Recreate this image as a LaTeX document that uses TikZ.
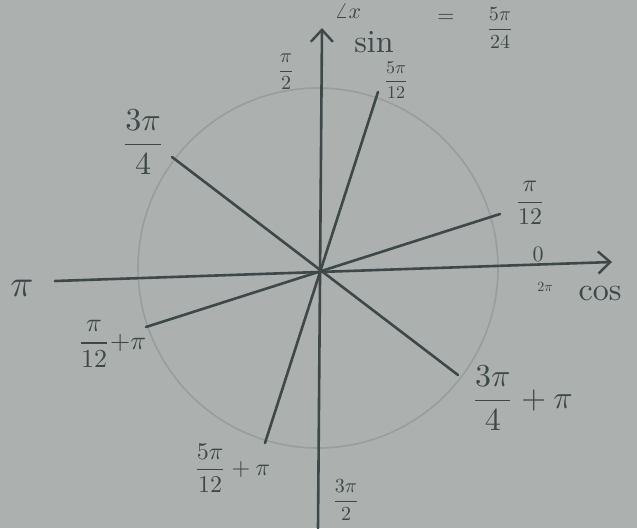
\documentclass[tikz,border=0pt]{standalone}
\usepackage{amsmath}
\usetikzlibrary{arrows.meta}
\definecolor{paper}{RGB}{172,176,174}
\definecolor{pencil}{RGB}{62,72,72}
\definecolor{faint}{RGB}{152,158,154}
\tikzset{
  ray/.style={draw=pencil,line width=2.6pt,line cap=round},
  axis/.style={ray,-{Straight Barb[length=12pt,width=22pt,line width=2.4pt]}},
  lbl/.style={text=pencil,inner sep=1pt,scale=#1/10}
}
\begin{document}
\begin{tikzpicture}[x=1pt,y=-1pt]
      \fill[paper] (0,0) rectangle (637,528);
      \clip (0,0) rectangle (637,528);

      \coordinate (O) at (318,268);
      \draw[faint,line width=1.6pt] (O) circle[radius=180pt];

      % axes
      \coordinate (S0) at (318,528);
      \coordinate (S1) at (322,28);
      \coordinate (C0) at (55,281);
      \coordinate (C1) at (612,262);
      \draw[axis] (S0) -- (S1);
      \draw[axis] (C0) -- (C1);

      % rays through the centre
      \coordinate (A1) at (378,92);
      \coordinate (A2) at (265,443);
      \coordinate (B1) at (172,157);
      \coordinate (B2) at (458,375);
      \coordinate (D1) at (500,214);
      \coordinate (D2) at (146,327);
      \draw[ray] (A1) -- (A2);
      \draw[ray] (B1) -- (B2);
      \draw[ray] (D1) -- (D2);

      % labels
      \node[lbl=22] (angx) at (348,11) {$\angle x$};
      \node[lbl=22] (eq) at (446,18) {$=$};
      \node[lbl=20] (ans) at (500,28) {$\dfrac{5\pi}{24}$};
      \node[lbl=32] (sin) at (374,42) {sin};
      \node[lbl=32] (cos) at (600,294) {cos};
      \node[lbl=20] (half) at (286,72) {$\dfrac{\pi}{2}$};
      \node[lbl=18] (fivetw) at (396,80) {$\dfrac{5\pi}{12}$};
      \node[lbl=32] (threeq) at (143,142) {$\dfrac{3\pi}{4}$};
      \node[lbl=24] (onetw) at (530,203) {$\dfrac{\pi}{12}$};
      \node[lbl=22] (zero) at (538,254) {$0$};
      \node[lbl=14] (twopi) at (545,287) {$2\pi$};
      \node[lbl=38] (pi) at (22,288) {$\pi$};
      \node[lbl=26] (onetwpi) at (112,344) {$\dfrac{\pi}{12}{+}\pi$};
      \node[lbl=32] (threeqpi) at (522,398) {$\dfrac{3\pi}{4}+\pi$};
      \node[lbl=24] (fivetwpi) at (232,468) {$\dfrac{5\pi}{12}+\pi$};
      \node[lbl=20] (threehalf) at (346,500) {$\dfrac{3\pi}{2}$};
\end{tikzpicture}
\end{document}
